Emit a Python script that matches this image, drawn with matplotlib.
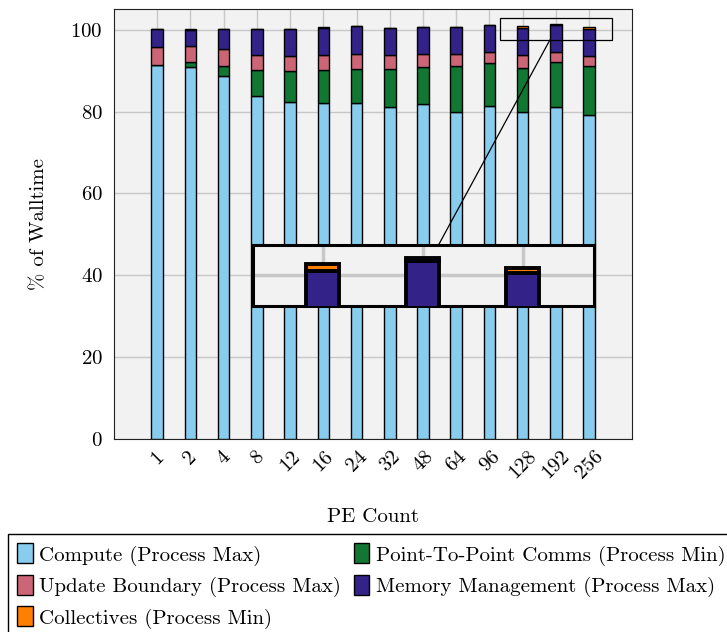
import numpy as np
import matplotlib
matplotlib.use("Agg")
import matplotlib.pyplot as plt
from matplotlib.patches import Rectangle, ConnectionPatch, Patch

plt.rcParams["font.family"] = ["cmr10", "DejaVu Serif"]
plt.rcParams["axes.formatter.use_mathtext"] = True
plt.rcParams["mathtext.fontset"] = "cm"

pe_counts = ["1", "2", "4", "8", "12", "16", "24", "32", "48", "64", "96", "128", "192", "256"]
compute = [91.3, 90.9, 88.6, 83.8, 82.3, 82.1, 82.1, 81.2, 81.8, 79.9, 81.4, 79.9, 81.1, 79.2]
p2p = [0.0, 1.2, 2.5, 6.4, 7.5, 8.1, 8.4, 9.3, 9.1, 11.2, 10.5, 10.8, 10.9, 11.9]
update = [4.5, 3.9, 4.3, 3.7, 3.8, 3.6, 3.6, 3.2, 3.2, 2.9, 2.7, 3.0, 2.6, 2.5]
memory = [4.4, 4.0, 4.7, 6.3, 6.6, 6.7, 6.7, 6.6, 6.5, 6.6, 6.6, 6.7, 6.6, 6.6]
collectives = [0.05, 0.05, 0.05, 0.05, 0.05, 0.05, 0.05, 0.05, 0.05, 0.05, 0.05, 0.55, 0.3, 0.45]

series = [
    ("Compute (Process Max)", compute, "#88CCEE"),
    ("Point-To-Point Comms (Process Min)", p2p, "#117733"),
    ("Update Boundary (Process Max)", update, "#CC6677"),
    ("Memory Management (Process Max)", memory, "#332288"),
    ("Collectives (Process Min)", collectives, "#FF8000"),
]

x = np.arange(len(pe_counts))
width = 0.35
fs = 15

fig = plt.figure(figsize=(7.27, 6.32), dpi=100)
ax = fig.add_axes([114 / 727, 1 - 439 / 632, 518 / 727, 430 / 632])
ax.set_facecolor("#F2F2F2")


def draw_bars(a, lw, w):
    bottom = np.zeros(len(x))
    for name, vals, col in series:
        vals = np.array(vals)
        a.bar(x, vals, w, bottom=bottom, color=col, edgecolor="black",
              linewidth=lw, label=name, zorder=3)
        bottom += vals


draw_bars(ax, 1.0, width)
ax.set_xlim(-1.3, 14.29)
ax.set_ylim(0, 105.05)
ax.set_yticks([0, 20, 40, 60, 80, 100])
ax.set_xticks(x)
ax.set_xticklabels(pe_counts, rotation=45, ha="center", fontsize=fs)
ax.tick_params(axis="y", labelsize=fs, length=0, pad=8)
ax.tick_params(axis="x", length=0, pad=6)
ax.grid(True, color="#C8C8C8", linewidth=1.0, zorder=0)
ax.set_axisbelow(True)
for s in ax.spines.values():
    s.set_color("#222222")
ax.set_ylabel("% of Walltime", fontsize=fs)
ax.yaxis.set_label_coords(-0.127, 0.5)
ax.set_xlabel("PE Count", fontsize=fs)
ax.xaxis.set_label_coords(0.5, -0.16)

# zoom rectangle
ax.add_patch(Rectangle((10.31, 97.5), 3.37, 5.4, fill=False,
                       edgecolor="black", linewidth=0.9, zorder=5))

# inset
axins = ax.inset_axes([2.87, 32.5, 10.27, 14.9], transform=ax.transData, zorder=6)
axins.set_facecolor("#F2F2F2")
draw_bars(axins, 2.8, 0.33)
axins.set_xlim(10.3, 13.71)
axins.set_ylim(97.4, 102.6)
axins.set_xticks([11, 12, 13])
axins.set_yticks([100])
axins.tick_params(labelbottom=False, labelleft=False, length=0)
axins.grid(True, color="#C8C8C8", linewidth=2.5, zorder=0)
axins.set_axisbelow(True)
for s in axins.spines.values():
    s.set_linewidth(2.2)

con = ConnectionPatch(xyA=(11.82, 97.5), coordsA=ax.transData,
                      xyB=(0.545, 1.0), coordsB=axins.transAxes,
                      color="black", linewidth=0.9, zorder=5)
fig.add_artist(con)

handles = [Patch(facecolor=col, edgecolor="black", linewidth=1.0) for _, _, col in series]
labels = [name for name, _, _ in series]
order = [0, 2, 4, 1, 3]
leg = fig.legend([handles[i] for i in order], [labels[i] for i in order],
                 loc="upper left", bbox_to_anchor=(8 / 727, 1 - 534 / 632),
                 ncol=2, fontsize=fs, fancybox=False, edgecolor="black",
                 framealpha=1, handlelength=0.75, handleheight=1.1,
                 handletextpad=0.3, columnspacing=0.6, borderaxespad=0,
                 labelspacing=0.45, borderpad=0.45)
leg.get_frame().set_linewidth(1.0)

fig.savefig("out.png", dpi=100)
